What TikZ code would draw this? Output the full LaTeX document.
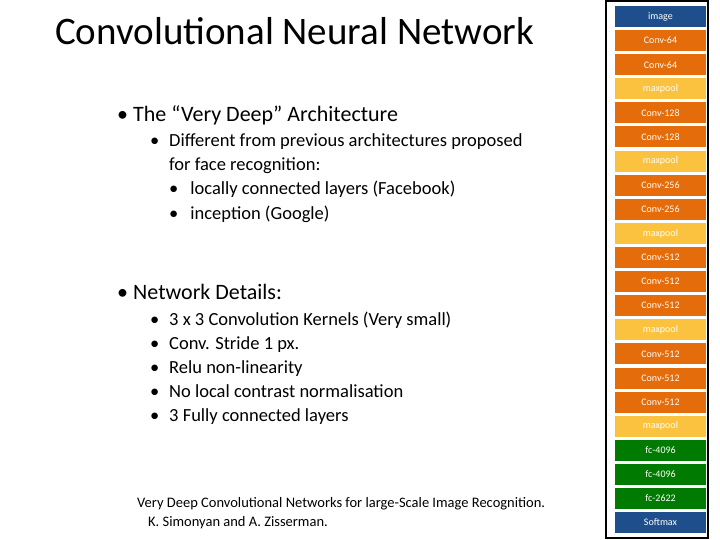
\documentclass[tikz,border=0pt]{standalone}
\usepackage{fontspec}
\setmainfont{Carlito}
\definecolor{cblue}{HTML}{1F4E8C}
\definecolor{corange}{HTML}{E46C0A}
\definecolor{cyellow}{HTML}{FAC23F}
\definecolor{cgreen}{HTML}{007A00}
\begin{document}
\begin{tikzpicture}[x=1pt,y=-1pt,
  layer/.style={minimum width=91pt,minimum height=21pt,inner sep=0pt,text=white,font=\fontsize{10}{12}\selectfont},
  txt/.style={anchor=base west,inner sep=0pt},
  big/.style={font=\fontsize{22}{26}\selectfont},
  mid/.style={font=\fontsize{18.5}{22}\selectfont}]
\useasboundingbox (0,0) rectangle (720,540);
\draw[line width=1.2pt] (606,1) rectangle (708,538);
\foreach \t/\c [count=\i from 0] in {image/cblue,Conv-64/corange,Conv-64/corange,maxpool/cyellow,Conv-128/corange,Conv-128/corange,maxpool/cyellow,Conv-256/corange,Conv-256/corange,maxpool/cyellow,Conv-512/corange,Conv-512/corange,Conv-512/corange,maxpool/cyellow,Conv-512/corange,Conv-512/corange,Conv-512/corange,maxpool/cyellow,fc-4096/cgreen,fc-4096/cgreen,fc-2622/cgreen,Softmax/cblue}
  \node[layer,fill=\c] (l\i) at (660.5,{16.5+24.1*\i}) {\t};
\node[txt,font=\fontsize{39}{44}\selectfont] (title) at (55,45) {Convolutional Neural Network};
\node[txt,big] (b1) at (117,122) {•};
\node[txt,big] (h1) at (133,122) {The “Very Deep” Architecture};
\node[txt,mid] (b11) at (150,147) {•};
\node[txt,mid] (t11) at (169,147) {Different from previous architectures proposed};
\node[txt,mid] (t12) at (169,171) {for face recognition:};
\node[txt,mid] (t13) at (169,195) {•\hspace{12pt}locally connected layers (Facebook)};
\node[txt,mid] (t14) at (169,219) {•\hspace{12pt}inception (Google)};
\node[txt,big] (b2) at (117,299) {•};
\node[txt,big] (h2) at (133,299) {Network Details:};
\foreach \t [count=\i from 0] in {3 x 3 Convolution Kernels (Very small),Conv. Stride 1 px.,Relu non-linearity,No local contrast normalisation,3 Fully connected layers}{
  \node[txt,mid] (bb\i) at (150,{325+24*\i}) {•};
  \node[txt,mid] (tt\i) at (169,{325+24*\i}) {\t};}
\node[txt,font=\fontsize{14.5}{17}\selectfont] (r1) at (137,507) {Very Deep Convolutional Networks for large-Scale Image Recognition.};
\node[txt,font=\fontsize{14.5}{17}\selectfont] (r2) at (148,526) {K. Simonyan and A. Zisserman.};
\end{tikzpicture}
\end{document}
